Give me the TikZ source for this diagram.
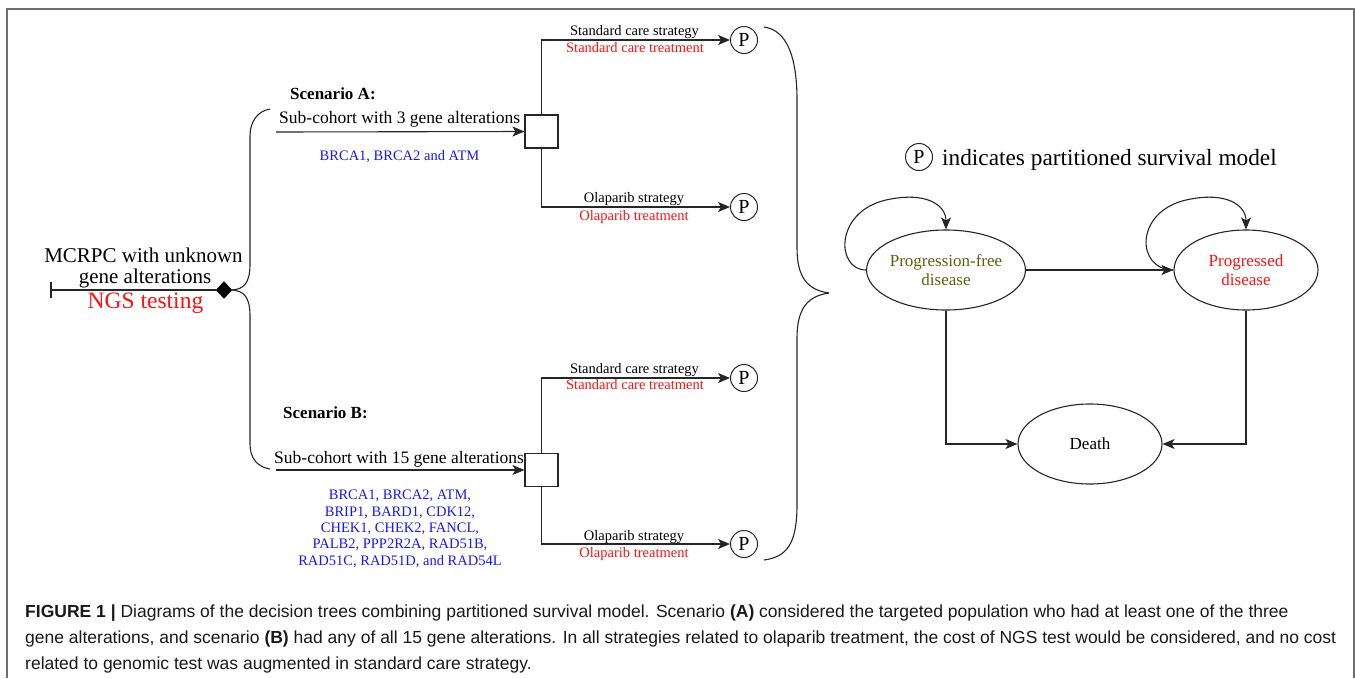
\documentclass[tikz,border=0pt]{standalone}
\usepackage{fontspec}
\setmainfont{Liberation Serif}
\newfontfamily\capfont{Liberation Sans}
\usetikzlibrary{shapes.geometric,arrows.meta}
\definecolor{tblue}{RGB}{25,25,235}
\definecolor{tred}{RGB}{250,20,20}
\definecolor{olivetxt}{RGB}{95,95,15}
\definecolor{framegray}{RGB}{110,110,110}
\newcommand\fsz[1]{\fontsize{#1}{#1}\selectfont}
\begin{document}
\begin{tikzpicture}[x=1pt,y=-1pt,
  ln/.style={line width=1.1pt, draw=black!85},
  arr/.style={ln, -{Stealth[length=12pt,width=10pt,inset=3pt]}},
  pnode/.style={circle, draw=black!85, line width=1pt, minimum size=27pt, inner sep=0pt, font=\fsz{20}},
  dbox/.style={rectangle, draw=black!85, line width=1.1pt, minimum size=33pt, inner sep=0pt},
  state/.style={ellipse, draw=black!85, line width=1.1pt, minimum width=144pt, minimum height=80pt, inner sep=0pt, align=center, font=\fontsize{17}{18.5}\selectfont},
  lbl/.style={anchor=base, inner sep=0pt},
  small/.style={lbl, font=\fsz{14.5}},
  capt/.style={anchor=base west, inner sep=0pt, font=\capfont\fsz{17.5}, text=black!90}
]
\useasboundingbox (0,0) rectangle (1355,678);
\fill[white] (0,0) rectangle (1355,678);
% frame
\draw[framegray, line width=1.6pt] (7,678) -- (7,9) -- (1354,9) -- (1354,678);

% ---------- root ----------
\coordinate (start) at (51,290);
\node[diamond, fill=black, draw=black, inner sep=0pt, minimum width=16pt, minimum height=17pt] (dia) at (224,290) {};
\draw[ln] ([yshift=8pt]start) -- ([yshift=-8pt]start);
\draw[ln] (start) -- (dia.west);
\node[lbl, font=\fsz{21}] (mc1) at (143.5,262) {MCRPC with unknown};
\node[lbl, font=\fsz{21}] (mc2) at (145,283) {gene alterations};
\node[lbl, font=\fsz{23.5}, text=tred] (ngs) at (145.5,308) {NGS testing};

% left brace
\coordinate (bAt) at (270,109);
\coordinate (bBt) at (270,469);
\draw[ln] (dia.east) .. controls (244,289) and (250,283) .. (250,264) -- (250,136)
  .. controls (250,121) and (258,111) .. (bAt);
\draw[ln] (dia.east) .. controls (244,291) and (250,297) .. (250,316) -- (250,444)
  .. controls (250,459) and (258,467) .. (bBt);

% ---------- Scenario A ----------
\node[anchor=base west, inner sep=0pt, font=\bfseries\fsz{17}] (scA) at (290,99) {Scenario A:};
\node[anchor=base west, inner sep=0pt, font=\fsz{17.5}] (subA) at (279,123) {Sub-cohort with 3 gene alterations};
\node[dbox] (boxA) at (541.5,131.5) {};
\coordinate (inA) at (276,132);
\draw[arr] (inA) -- (boxA.west);
\node[small, text=tblue] (genA) at (399.5,160) {BRCA1, BRCA2 and ATM};
\node[pnode] (pA1) at (744,40) {P};
\node[pnode] (pA2) at (744,207) {P};
\draw[arr] (boxA.north) |- (pA1.west);
\draw[arr] (boxA.south) |- (pA2.west);
\node[small] (sA1) at (634.5,35) {Standard care strategy};
\node[small, text=tred] (tA1) at (635,52) {Standard care treatment};
\node[small] (sA2) at (634,202) {Olaparib strategy};
\node[small, text=tred] (tA2) at (634,220) {Olaparib treatment};

% ---------- Scenario B ----------
\node[anchor=base west, inner sep=0pt, font=\bfseries\fsz{17}] (scB) at (283,418) {Scenario B:};
\node[anchor=base west, inner sep=0pt, font=\fsz{17.5}] (subB) at (274,463) {Sub-cohort with 15 gene alterations};
\node[dbox] (boxB) at (541.5,470) {};
\coordinate (inB) at (276,470);
\draw[arr] (inB) -- (boxB.west);
\node[anchor=base, inner sep=0pt, font=\fontsize{14.5}{16.3}\selectfont, text=tblue, align=center] (genB) at (400,565)
  {BRCA1, BRCA2, ATM,\\BRIP1, BARD1, CDK12,\\CHEK1, CHEK2, FANCL,\\PALB2, PPP2R2A, RAD51B,\\RAD51C, RAD51D, and RAD54L};
\node[pnode] (pB1) at (744,378) {P};
\node[pnode] (pB2) at (744,544) {P};
\draw[arr] (boxB.north) |- (pB1.west);
\draw[arr] (boxB.south) |- (pB2.west);
\node[small] (sB1) at (634.5,373) {Standard care strategy};
\node[small, text=tred] (tB1) at (635,389) {Standard care treatment};
\node[small] (sB2) at (634,540) {Olaparib strategy};
\node[small, text=tred] (tB2) at (634,557) {Olaparib treatment};

% right brace
\coordinate (rbT) at (764,27);
\coordinate (rbM) at (829,293);
\coordinate (rbB) at (764,560);
\draw[ln] (rbT) .. controls (786,30) and (797,55) .. (797,100) -- (797,248)
  .. controls (797,278) and (808,290) .. (rbM);
\draw[ln] (rbM) .. controls (808,296) and (797,308) .. (797,338) -- (797,505)
  .. controls (797,545) and (786,557) .. (rbB);

% ---------- partitioned survival model ----------
\node[pnode] (pL) at (919,157) {P};
\node[anchor=base west, inner sep=0pt, font=\fsz{23.3}] (legend) at (942,165) {indicates partitioned survival model};

\node[state, text=olivetxt] (pf) at (946,270) {Progression-free\\disease};
\node[state, text=tred] (pd) at (1246,270) {Progressed\\disease};
\node[state] (death) at (1090,444) {Death};

\draw[arr] (pf.east) -- (pd.west);
\draw[arr] (pf.west) .. controls (836,270) and (834,212) .. (886,200)
  .. controls (926,191) and (946,205) .. (pf.north);
\draw[arr] (pd.west) .. controls (1136,270) and (1134,212) .. (1186,200)
  .. controls (1226,191) and (1246,205) .. (pd.north);
\draw[arr] (pf.south) |- (death.west);
\draw[arr] (pd.south) |- (death.east);

% ---------- caption ----------
\node[capt] (cap1) at (25,617) {\textbf{FIGURE 1 |} Diagrams of the decision trees combining partitioned survival model. Scenario \textbf{(A)} considered the targeted population who had at least one of the three};
\node[capt] (cap2) at (25,643) {gene alterations, and scenario \textbf{(B)} had any of all 15 gene alterations. In all strategies related to olaparib treatment, the cost of NGS test would be considered, and no cost};
\node[capt] (cap3) at (25,669) {related to genomic test was augmented in standard care strategy.};
\end{tikzpicture}
\end{document}
